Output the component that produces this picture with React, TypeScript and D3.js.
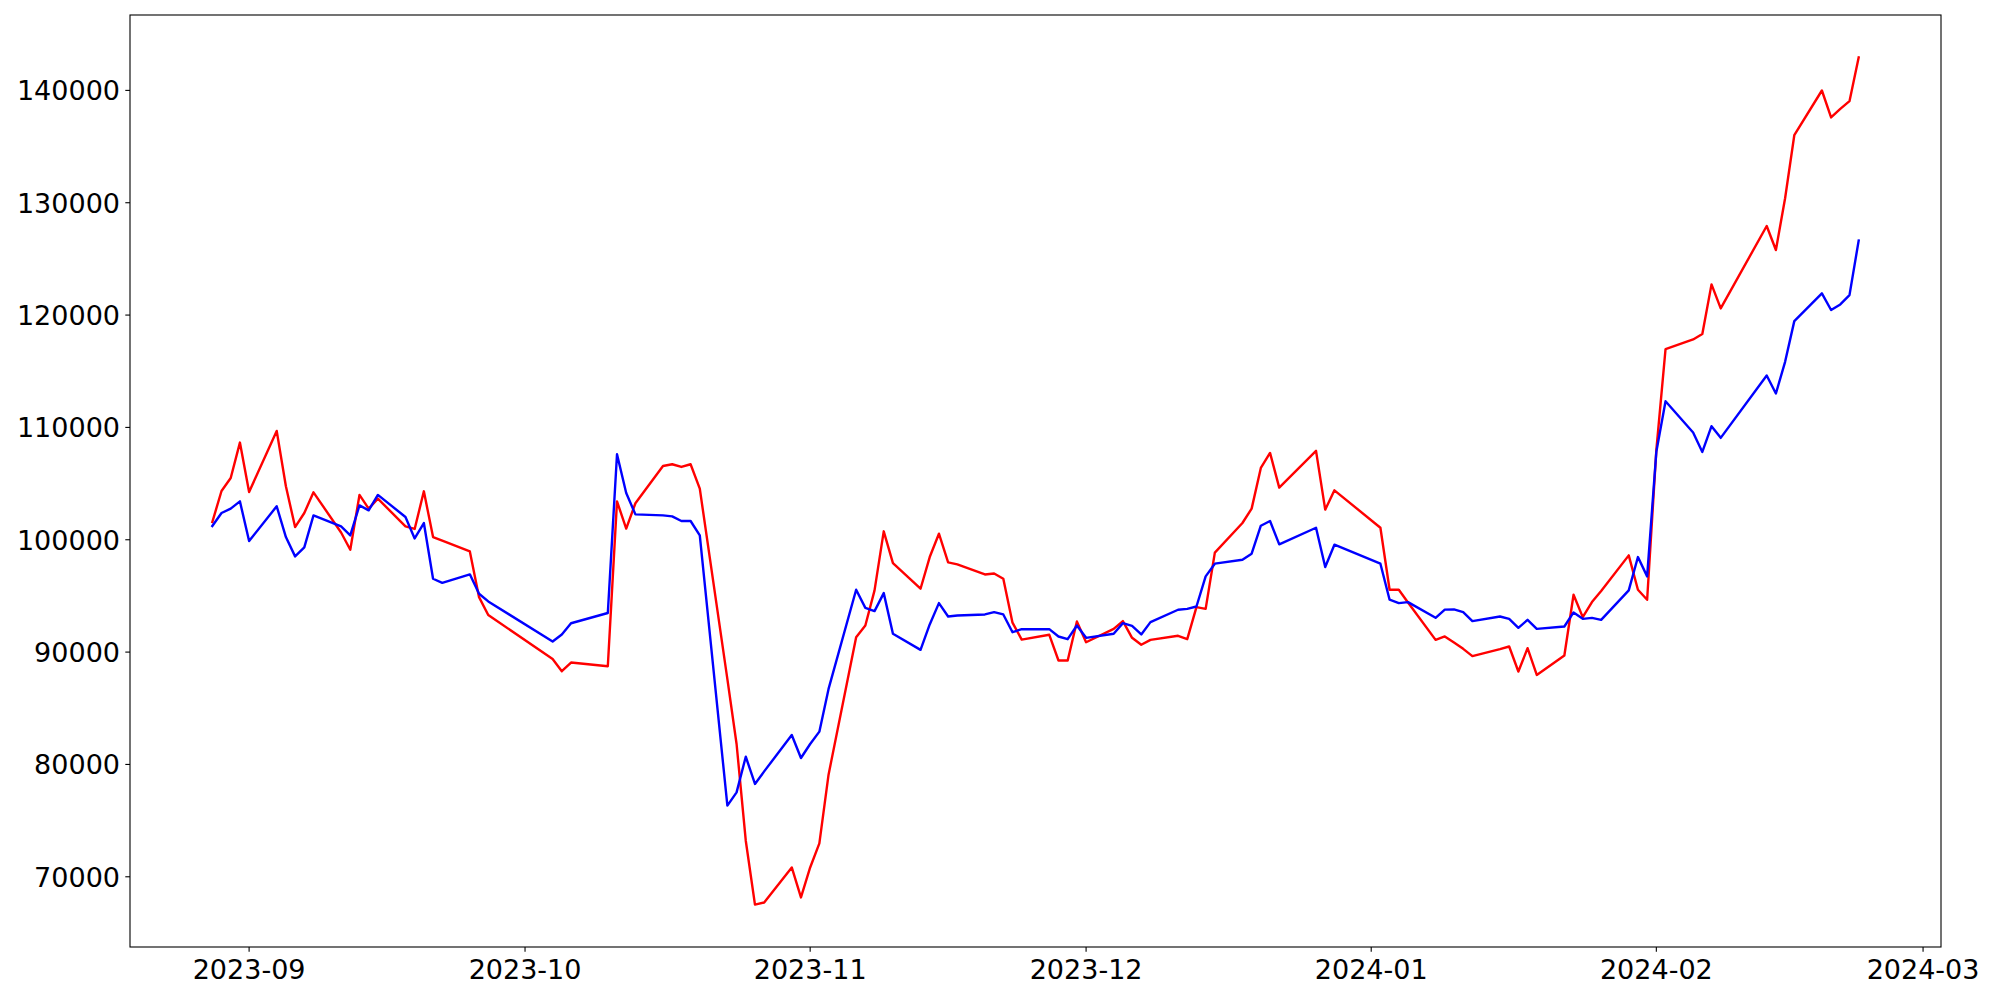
import React from "react";
import * as d3 from "d3";

const dates: string[] = [
  "2023-08-28","2023-08-29","2023-08-30","2023-08-31","2023-09-01",
  "2023-09-04","2023-09-05","2023-09-06","2023-09-07","2023-09-08",
  "2023-09-11","2023-09-12","2023-09-13","2023-09-14","2023-09-15",
  "2023-09-18","2023-09-19","2023-09-20","2023-09-21","2023-09-22",
  "2023-09-25","2023-09-26","2023-09-27",
  "2023-10-04","2023-10-05","2023-10-06",
  "2023-10-10","2023-10-11","2023-10-12","2023-10-13",
  "2023-10-16","2023-10-17","2023-10-18","2023-10-19","2023-10-20",
  "2023-10-23","2023-10-24","2023-10-25","2023-10-26","2023-10-27",
  "2023-10-30","2023-10-31","2023-11-01","2023-11-02","2023-11-03",
  "2023-11-06","2023-11-07","2023-11-08","2023-11-09","2023-11-10",
  "2023-11-13","2023-11-14","2023-11-15","2023-11-16","2023-11-17",
  "2023-11-20","2023-11-21","2023-11-22","2023-11-23","2023-11-24",
  "2023-11-27","2023-11-28","2023-11-29","2023-11-30","2023-12-01",
  "2023-12-04","2023-12-05","2023-12-06","2023-12-07","2023-12-08",
  "2023-12-11","2023-12-12","2023-12-13","2023-12-14","2023-12-15",
  "2023-12-18","2023-12-19","2023-12-20","2023-12-21","2023-12-22",
  "2023-12-26","2023-12-27","2023-12-28",
  "2024-01-02","2024-01-03","2024-01-04","2024-01-05",
  "2024-01-08","2024-01-09","2024-01-10","2024-01-11","2024-01-12",
  "2024-01-15","2024-01-16","2024-01-17","2024-01-18","2024-01-19",
  "2024-01-22","2024-01-23","2024-01-24","2024-01-25","2024-01-26",
  "2024-01-29","2024-01-30","2024-01-31","2024-02-01","2024-02-02",
  "2024-02-05","2024-02-06","2024-02-07","2024-02-08",
  "2024-02-13","2024-02-14","2024-02-15","2024-02-16",
  "2024-02-19","2024-02-20","2024-02-21","2024-02-22","2024-02-23",
];

const redSeries: number[] = [
  101580,104340,105500,108650,104250,
  109690,104760,101130,102380,104220,
  100650,99110,103990,102770,103660,
  101190,100960,104310,100240,99920,
  98960,94890,93300,
  89380,88300,89070,
  88740,103420,100990,103250,
  106570,106720,106480,106720,104550,
  87600,81820,73210,67520,67710,
  70830,68160,70830,72970,79090,
  91330,92370,95490,100750,97920,
  95640,98460,100540,97980,97810,
  96910,97000,96530,92620,91110,
  91540,89250,89250,92730,90880,
  92070,92760,91270,90650,91090,
  91450,91150,94000,93850,98850,
  101490,102770,106390,107730,104640,
  107910,102680,104400,
  101070,95550,95550,94420,
  91090,91390,90850,90290,89640,
  90260,90500,88270,90350,87970,
  89700,95100,93110,94450,95430,
  98610,95550,94660,107970,116970,
  117830,118310,122730,120590,
  127930,125790,130400,136010,
  139990,137590,138360,139040,142940,
];

const blueSeries: number[] = [
  101220,102380,102770,103420,99890,
  102980,100240,98520,99320,102170,
  101190,100390,103060,102620,103990,
  102030,100120,101490,96530,96170,
  96920,95190,94510,
  90940,91570,92570,
  93480,107610,104160,102260,
  102170,102080,101670,101670,100390,
  76330,77510,80690,78260,79380,
  82620,80570,81820,82920,86720,
  95550,93940,93650,95250,91630,
  90200,92460,94360,93170,93260,
  93350,93560,93350,91770,92040,
  92040,91390,91150,92370,91270,
  91630,92580,92340,91570,92670,
  93770,93850,94060,96740,97870,
  98220,98760,101250,101670,99590,
  101070,97570,99560,
  97870,94660,94360,94450,
  93050,93780,93800,93560,92760,
  93170,92960,92160,92870,92070,
  92280,93530,92960,93050,92870,
  95490,98460,96740,107820,112330,
  109540,107820,110110,109070,
  114620,113020,115840,119460,
  121930,120450,120950,121780,126630,
];

const yTickValues: number[] = [70000, 80000, 90000, 100000, 110000, 120000, 130000, 140000];

const W = 2000;
const H = 1000;
const L = 130;
const R = 1941;
const T = 15;
const B = 947;
const FONT = "'DejaVu Sans', sans-serif";
const FS = 27;

export default function App() {
  const parse = d3.timeParse("%Y-%m-%d");
  const xs = dates.map((d) => parse(d) as Date);
  const t0 = xs[0].getTime();
  const t1 = xs[xs.length - 1].getTime();
  const tm = (t1 - t0) * 0.05;
  const x = d3.scaleTime().domain([new Date(t0 - tm), new Date(t1 + tm)]).range([L, R]);

  const all = redSeries.concat(blueSeries);
  const vmin = d3.min(all) as number;
  const vmax = d3.max(all) as number;
  const vm = (vmax - vmin) * 0.05;
  const y = d3.scaleLinear().domain([vmin - vm, vmax + vm]).range([B, T]);

  const line = d3
    .line<number>()
    .x((_, i) => x(xs[i]))
    .y((v) => y(v));

  const xTicks = x.ticks(d3.timeMonth.every(1) as d3.TimeInterval);
  const fmt = d3.timeFormat("%Y-%m");

  return (
    <svg
      width={W}
      height={H}
      style={{ position: "absolute", left: 0, top: 0, background: "#fff" }}
    >
      <rect x={0} y={0} width={W} height={H} fill="#fff" />
      <path d={line(redSeries) || ""} fill="none" stroke="#ff0000" strokeWidth={2.4} strokeLinejoin="round" strokeLinecap="square" />
      <path d={line(blueSeries) || ""} fill="none" stroke="#0000ff" strokeWidth={2.4} strokeLinejoin="round" strokeLinecap="square" />
      <rect x={L} y={T} width={R - L} height={B - T} fill="none" stroke="#000" strokeWidth={1.1} />
      {xTicks.map((t, i) => (
        <g key={"x" + i}>
          <line x1={x(t)} x2={x(t)} y1={B} y2={B + 4.7} stroke="#000" strokeWidth={1.1} />
          <text x={x(t)} y={979} textAnchor="middle" fontFamily={FONT} fontSize={FS} fill="#000">
            {fmt(t)}
          </text>
        </g>
      ))}
      {yTickValues.map((v, i) => (
        <g key={"y" + i}>
          <line x1={L - 4.7} x2={L} y1={y(v)} y2={y(v)} stroke="#000" strokeWidth={1.1} />
          <text x={L - 10} y={y(v) + 10} textAnchor="end" fontFamily={FONT} fontSize={FS} fill="#000">
            {String(v)}
          </text>
        </g>
      ))}
    </svg>
  );
}
